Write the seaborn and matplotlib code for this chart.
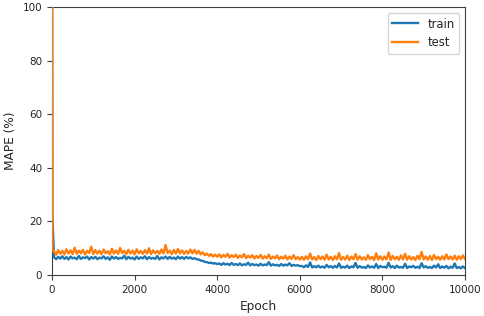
import matplotlib
import matplotlib.pyplot as plt
import pandas as pd
import seaborn as sns

matplotlib.use('Agg')

# epochs at which the curves are sampled
epochs = [0, 10] + list(range(50, 10001, 50))

train_mape = [140, 22,
              # 50 - 3400
              6.6, 5.9, 6.8, 6.1, 7.0, 6.0, 6.7, 5.8, 6.9, 6.2,
              6.5, 5.9, 7.1, 6.0, 6.6, 6.3, 6.9, 5.8, 6.7, 6.1,
              6.8, 5.9, 6.5, 6.2, 7.0, 6.0, 6.6, 5.7, 6.9, 6.1,
              6.7, 6.0, 6.4, 6.2, 7.2, 5.9, 6.8, 6.1, 6.5, 5.8,
              6.9, 6.0, 6.6, 6.2, 7.0, 5.9, 6.7, 6.1, 6.4, 6.0,
              7.1, 5.8, 6.6, 6.2, 6.9, 6.0, 6.8, 6.1, 6.5, 5.9,
              6.9, 6.1, 6.7, 6.0, 6.8, 6.2, 6.6, 6.0,
              # 3450 - 4000
              6.3, 5.9, 5.8, 5.4, 5.3, 4.9, 4.8, 4.5, 4.6, 4.3, 4.4, 4.1,
              # 4050 - 6000
              4.3, 3.8, 4.4, 3.9, 4.2, 3.7, 4.5, 3.8, 4.1, 3.7,
              4.3, 3.6, 4.0, 3.8, 4.6, 3.6, 4.1, 3.7, 3.9, 3.5,
              4.2, 3.6, 3.9, 3.7, 4.8, 3.5, 4.0, 3.6, 3.8, 3.4,
              4.1, 3.5, 3.9, 3.6, 4.4, 3.4, 3.8, 3.5, 3.7, 3.3,
              # 6050 - 10000
              3.4, 2.9, 3.6, 3.0, 4.7, 2.8, 3.3, 2.9, 3.5, 2.8,
              3.2, 2.7, 3.8, 2.9, 3.3, 2.7, 3.4, 2.8, 4.3, 2.7,
              3.1, 2.8, 3.5, 2.6, 3.2, 2.9, 4.5, 2.7, 3.3, 2.8,
              3.0, 2.6, 3.6, 2.8, 3.2, 2.7, 4.1, 2.6, 3.4, 2.9,
              3.1, 2.7, 4.6, 2.8, 3.3, 2.6, 3.5, 2.8, 3.0, 2.7,
              4.2, 2.6, 3.2, 2.9, 3.4, 2.7, 3.1, 2.6, 4.4, 2.8,
              3.3, 2.7, 3.0, 2.6, 3.5, 2.8, 4.0, 2.6, 3.2, 2.7,
              3.4, 2.5, 3.1, 2.7, 4.3, 2.6, 3.0, 2.5, 3.2, 2.6]

test_mape = [115, 9,
             # 50 - 3400
             8.9, 7.6, 9.3, 7.9, 9.0, 7.7, 9.6, 8.0, 9.2, 7.8,
             10.2, 7.9, 9.1, 8.1, 9.4, 7.7, 9.0, 8.2, 10.6, 7.8,
             9.3, 8.0, 9.1, 7.8, 9.5, 8.1, 8.9, 7.7, 9.8, 8.0,
             9.2, 7.9, 10.1, 8.2, 9.0, 7.8, 9.4, 8.0, 9.1, 7.7,
             9.6, 8.1, 9.0, 7.9, 9.3, 8.0, 10.0, 7.8, 9.2, 8.1,
             9.0, 7.9, 9.5, 8.0, 11.2, 8.2, 9.1, 7.8, 9.4, 8.0,
             9.7, 8.1, 9.2, 7.9, 9.0, 8.0, 9.5, 8.1,
             # 3450 - 4000
             9.4, 8.0, 9.0, 7.7, 8.5, 7.4, 8.0, 7.1, 7.8, 6.9, 7.6, 6.8,
             # 4050 - 6000
             7.7, 6.6, 7.5, 6.8, 7.9, 6.5, 7.4, 6.7, 7.6, 6.4,
             7.3, 6.6, 7.8, 6.3, 7.2, 6.5, 7.4, 6.2, 7.1, 6.4,
             7.5, 6.1, 7.0, 6.3, 7.6, 6.0, 6.9, 6.2, 7.3, 5.9,
             6.8, 6.1, 7.2, 5.8, 6.9, 6.0, 7.4, 5.9, 6.7, 5.8,
             # 6050 - 10000
             6.8, 5.7, 7.0, 5.9, 8.0, 5.8, 6.7, 5.6, 7.1, 5.9,
             6.9, 5.7, 7.6, 5.8, 6.8, 5.6, 7.0, 5.9, 8.2, 5.7,
             6.7, 5.8, 7.2, 5.6, 6.9, 5.9, 7.8, 5.7, 7.0, 5.8,
             6.6, 5.7, 7.4, 5.9, 6.8, 5.6, 8.1, 5.8, 7.0, 5.7,
             6.9, 5.8, 8.4, 5.6, 7.1, 5.9, 6.8, 5.7, 7.3, 5.8,
             7.9, 5.7, 7.0, 5.8, 6.7, 5.6, 7.2, 5.9, 8.6, 5.8,
             6.9, 5.7, 7.1, 5.6, 7.5, 5.9, 6.8, 5.7, 7.0, 5.8,
             7.7, 5.9, 6.9, 5.8, 7.2, 5.7, 7.0, 5.9, 7.3, 6.0]


def main():
    df = pd.DataFrame({'Epoch': epochs, 'train': train_mape, 'test': test_mape})

    plt.rcParams['font.size'] = 7.5
    plt.rcParams['text.color'] = '#262626'
    plt.rcParams['axes.labelcolor'] = '#262626'
    plt.rcParams['xtick.color'] = '#404040'
    plt.rcParams['ytick.color'] = '#404040'
    plt.rcParams['xtick.labelcolor'] = '#262626'
    plt.rcParams['ytick.labelcolor'] = '#262626'

    fig = plt.figure(figsize=(4.84, 3.16), dpi=100)
    ax = fig.add_axes([0.1074, 0.1297, 0.8533, 0.8481])

    sns.lineplot(data=df, x='Epoch', y='train', ax=ax, color='#1f77b4',
                 linewidth=1.7, label='train', zorder=3)
    sns.lineplot(data=df, x='Epoch', y='test', ax=ax, color='#ff7f0e',
                 linewidth=1.7, label='test', zorder=3)

    ax.set_xlim(0, 10000)
    ax.set_ylim(0, 100)
    ax.set_xlabel('Epoch', fontsize=8.7)
    ax.set_ylabel('MAPE (%)', fontsize=8.7)
    for spine in ax.spines.values():
        spine.set_color('#404040')
    ax.legend(loc='upper right', fontsize=8.4, handlelength=2.2)

    fig.savefig('out.png', dpi=100)
    plt.close(fig)


if __name__ == "__main__":
    main()
